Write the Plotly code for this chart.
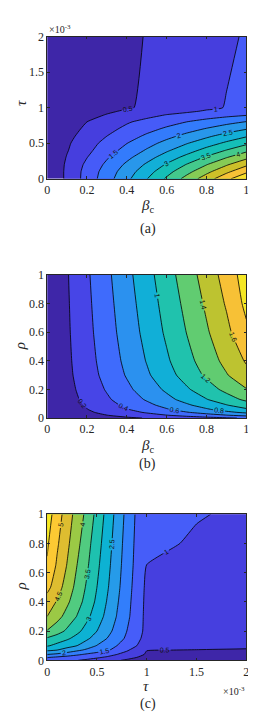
import plotly.graph_objects as go

# ---------------- data ----------------
# panel (a): x = beta_c, y = tau (units of 1e-3)
beta_a = [0, 0.1, 0.2, 0.3, 0.4, 0.5, 0.6, 0.7, 0.8, 0.9, 1.0]
tau_a = [0, 0.1, 0.2, 0.3, 0.4, 0.5, 0.6, 0.7, 0.8, 0.9, 0.95, 1.0, 2.0]
z_a = [
    [0, 0.60, 1.19, 1.79, 2.38, 2.98, 3.57, 4.17, 4.76, 5.36, 5.95],
    [0, 0.60, 1.17, 1.72, 2.26, 2.79, 3.33, 3.84, 4.37, 4.89, 5.40],
    [0, 0.58, 1.10, 1.60, 2.09, 2.57, 3.05, 3.52, 3.98, 4.44, 4.90],
    [0, 0.53, 0.99, 1.45, 1.88, 2.31, 2.74, 3.15, 3.57, 3.98, 4.38],
    [0, 0.47, 0.88, 1.28, 1.67, 2.05, 2.43, 2.79, 3.16, 3.52, 3.88],
    [0, 0.43, 0.80, 1.15, 1.49, 1.82, 2.15, 2.47, 2.78, 3.09, 3.40],
    [0, 0.37, 0.69, 1.00, 1.29, 1.58, 1.86, 2.14, 2.41, 2.69, 2.95],
    [0, 0.31, 0.59, 0.86, 1.11, 1.35, 1.58, 1.81, 2.04, 2.26, 2.48],
    [0, 0.26, 0.50, 0.73, 0.95, 1.14, 1.32, 1.50, 1.67, 1.85, 2.02],
    [0, 0.17, 0.35, 0.52, 0.69, 0.85, 1.01, 1.13, 1.25, 1.35, 1.45],
    [0, 0.14, 0.29, 0.43, 0.56, 0.68, 0.80, 0.92, 1.05, 1.17, 1.30],
    [0, 0.11, 0.23, 0.34, 0.46, 0.57, 0.68, 0.80, 0.91, 1.02, 1.14],
    [0, 0.10, 0.21, 0.31, 0.41, 0.52, 0.62, 0.73, 0.83, 0.93, 1.04],
]

# panel (b): x = beta_c, y = rho
beta_b = [0, 0.1, 0.2, 0.3, 0.4, 0.5, 0.6, 0.7, 0.8, 0.9, 1.0]
rho_b = [0, 0.02, 0.04, 0.06, 0.09, 0.13, 0.2, 0.3, 0.4, 0.6, 0.8, 1.0]
z_b = [
    [0, 0.042, 0.084, 0.126, 0.168, 0.210, 0.252, 0.294, 0.336, 0.378, 0.42],
    [0, 0.066, 0.132, 0.198, 0.264, 0.330, 0.396, 0.462, 0.528, 0.594, 0.66],
    [0, 0.084, 0.168, 0.252, 0.336, 0.420, 0.504, 0.588, 0.672, 0.756, 0.84],
    [0, 0.097, 0.194, 0.291, 0.388, 0.485, 0.582, 0.679, 0.776, 0.873, 0.97],
    [0, 0.110, 0.220, 0.330, 0.440, 0.550, 0.660, 0.770, 0.880, 0.990, 1.10],
    [0, 0.124, 0.248, 0.372, 0.496, 0.620, 0.744, 0.868, 0.992, 1.116, 1.24],
    [0, 0.139, 0.278, 0.417, 0.556, 0.695, 0.834, 0.973, 1.112, 1.251, 1.39],
    [0, 0.154, 0.308, 0.462, 0.616, 0.770, 0.924, 1.078, 1.232, 1.386, 1.54],
    [0, 0.162, 0.324, 0.486, 0.648, 0.810, 0.972, 1.134, 1.296, 1.458, 1.62],
    [0, 0.172, 0.344, 0.516, 0.688, 0.860, 1.032, 1.204, 1.376, 1.548, 1.76],
    [0, 0.179, 0.358, 0.537, 0.716, 0.895, 1.074, 1.253, 1.432, 1.620, 1.85],
    [0, 0.186, 0.372, 0.558, 0.744, 0.930, 1.116, 1.302, 1.488, 1.680, 1.90],
]

# panel (c): x = tau (units of 1e-3), y = rho
tau_c = [0, 0.1, 0.2, 0.3, 0.4, 0.5, 0.6, 0.7, 0.8, 0.9, 1.0, 1.5, 2.0]
rho_c = [0, 0.02, 0.04, 0.07, 0.1, 0.15, 0.2, 0.3, 0.4, 0.5, 0.65, 0.8, 1.0]
z_c = [
    [1.25, 1.17, 1.09, 1.01, 0.93, 0.84, 0.70, 0.55, 0.43, 0.30, 0.20, 0.10, 0.08],
    [1.53, 1.42, 1.32, 1.23, 1.14, 1.05, 0.95, 0.80, 0.65, 0.50, 0.35, 0.22, 0.20],
    [2.00, 1.90, 1.75, 1.58, 1.43, 1.30, 1.15, 1.00, 0.83, 0.64, 0.45, 0.36, 0.33],
    [2.60, 2.50, 2.30, 2.10, 1.91, 1.74, 1.57, 1.33, 1.06, 0.80, 0.51, 0.49, 0.47],
    [3.05, 2.87, 2.68, 2.50, 2.24, 1.98, 1.74, 1.50, 1.25, 1.00, 0.66, 0.60, 0.57],
    [3.45, 3.26, 3.08, 2.84, 2.58, 2.29, 2.00, 1.71, 1.42, 1.14, 0.80, 0.76, 0.73],
    [3.97, 3.71, 3.41, 3.12, 2.81, 2.50, 2.17, 1.83, 1.50, 1.19, 0.87, 0.82, 0.78],
    [4.50, 4.17, 3.83, 3.48, 3.11, 2.74, 2.37, 1.98, 1.61, 1.24, 0.87, 0.83, 0.79],
    [4.78, 4.46, 4.09, 3.71, 3.31, 2.90, 2.48, 2.06, 1.66, 1.27, 0.88, 0.85, 0.81],
    [5.15, 4.72, 4.28, 3.85, 3.43, 3.00, 2.57, 2.13, 1.71, 1.30, 0.90, 0.87, 0.83],
    [5.45, 4.93, 4.48, 4.00, 3.57, 3.11, 2.66, 2.20, 1.76, 1.35, 0.995, 0.93, 0.88],
    [5.57, 5.07, 4.61, 4.14, 3.68, 3.21, 2.74, 2.26, 1.80, 1.38, 1.08, 0.96, 0.92],
    [5.75, 5.24, 4.76, 4.30, 3.86, 3.35, 2.85, 2.35, 1.86, 1.42, 1.15, 1.02, 0.95],
]

# contour levels (start, step, end)
levels_a = (0.5, 0.5, 5.5)
levels_b = (0.2, 0.2, 1.8)
levels_c = (0.5, 0.5, 5.5)

ticks_beta = [0, 0.2, 0.4, 0.6, 0.8, 1]
ticks_tau = [0, 0.5, 1, 1.5, 2]
ticks_rho = [0, 0.2, 0.4, 0.6, 0.8, 1]

# ---------------- styling ----------------
PARULA = [
    (0 / 255, (0.2422, 0.1504, 0.6603)),
    (16 / 255, (0.2704, 0.2138, 0.8346)),
    (32 / 255, (0.2813, 0.2985, 0.9397)),
    (48 / 255, (0.2710, 0.3860, 0.9898)),
    (64 / 255, (0.2006, 0.4803, 0.9906)),
    (80 / 255, (0.1716, 0.5655, 0.9393)),
    (96 / 255, (0.1288, 0.6408, 0.8910)),
    (112 / 255, (0.0433, 0.7039, 0.8242)),
    (128 / 255, (0.0770, 0.7468, 0.7224)),
    (144 / 255, (0.2061, 0.7808, 0.6065)),
    (160 / 255, (0.3671, 0.8021, 0.4563)),
    (176 / 255, (0.5886, 0.7913, 0.2833)),
    (192 / 255, (0.7945, 0.7554, 0.1570)),
    (208 / 255, (0.9523, 0.7284, 0.2237)),
    (224 / 255, (0.9938, 0.7974, 0.1974)),
    (240 / 255, (0.9601, 0.8963, 0.1507)),
    (1.0, (0.9769, 0.9839, 0.0805)),
]


def parula(s):
    s = max(0.0, min(1.0, s))
    for (s0, c0), (s1, c1) in zip(PARULA[:-1], PARULA[1:]):
        if s <= s1:
            t = 0 if s1 == s0 else (s - s0) / (s1 - s0)
            r, g, b = [c0[i] + t * (c1[i] - c0[i]) for i in range(3)]
            return "rgb(%d,%d,%d)" % (round(r * 255), round(g * 255), round(b * 255))
    return "rgb(249,251,21)"


def band_scale(levels, z):
    start, step, end = levels
    n = int(round((end - start) / step)) + 1
    zmax = max(max(row) for row in z)
    lows = [0.0] + [start + j * step for j in range(n)]
    return [[k / n, parula(lows[k] / zmax)] for k in range(n + 1)]


SERIF = "Liberation Serif"
TXT = "#262626"


def contour(x, y, z, levels, xa, ya):
    start, step, end = levels
    return go.Contour(
        x=x, y=y, z=z, xaxis=xa, yaxis=ya,
        autocontour=False,
        contours=dict(start=start, end=end, size=step, coloring="fill",
                      showlabels=True,
                      labelfont=dict(size=7, color="#111111",
                                     family="Liberation Sans")),
        colorscale=band_scale(levels, z),
        showscale=False,
        line=dict(color="black", width=0.8, smoothing=0.45),
        hoverinfo="skip",
    )


fig = go.Figure()
fig.add_trace(contour(beta_a, tau_a, z_a, levels_a, "x", "y"))
fig.add_trace(contour(beta_b, rho_b, z_b, levels_b, "x2", "y2"))
fig.add_trace(contour(tau_c, rho_c, z_c, levels_c, "x3", "y3"))

W, H = 256, 726
XD = [37 / W, 241 / W]


def ydom(top, bot):
    return [1 - bot / H, 1 - top / H]


def axis(rng, tickvals, dom, anchor):
    return dict(range=rng, tickvals=tickvals, domain=dom, anchor=anchor,
                showgrid=False, zeroline=False, ticks="inside", ticklen=3,
                tickwidth=0.6, tickcolor=TXT, showline=True, mirror="ticks",
                linecolor=TXT, linewidth=0.6,
                tickfont=dict(family=SERIF, size=12, color=TXT))


fig.update_layout(
    width=W, height=H, autosize=False,
    margin=dict(l=0, r=0, t=0, b=0),
    paper_bgcolor="white", plot_bgcolor="white",
    showlegend=False,
    xaxis=axis([0, 1], ticks_beta, XD, "y"),
    yaxis=axis([0, 2], ticks_tau, ydom(22, 167), "x"),
    xaxis2=axis([0, 1], ticks_beta, XD, "y2"),
    yaxis2=axis([0, 1], ticks_rho, ydom(265, 411), "x2"),
    xaxis3=axis([0, 2], ticks_tau, XD, "y3"),
    yaxis3=axis([0, 1], ticks_rho, ydom(509, 658), "x3"),
)


def note(text, px, py, size=13, angle=0, xanchor="center", yanchor="middle"):
    fig.add_annotation(text=text, x=px / W, y=1 - py / H, xref="paper", yref="paper",
                       showarrow=False, textangle=angle, xanchor=xanchor,
                       yanchor=yanchor, font=dict(family=SERIF, size=size, color=TXT))


# panel (a)
note("<i>β</i><sub>c</sub>", 140, 195, size=15)
note("<i>τ</i>", 10, 90, size=15, angle=-90)
note("×10<sup>-3</sup>", 37, 14, size=10, xanchor="left")
note("(a)", 140, 218, size=14)
# panel (b)
note("<i>β</i><sub>c</sub>", 140, 439, size=15)
note("<i>ρ</i>", 10, 338, size=15, angle=-90)
note("(b)", 140, 458, size=14)
# panel (c)
note("<i>τ</i>", 138, 684, size=15)
note("<i>ρ</i>", 10, 583, size=15, angle=-90)
note("×10<sup>-3</sup>", 242, 689, size=10, xanchor="right")
note("(c)", 140, 703, size=14)

fig.write_html("out.html")
